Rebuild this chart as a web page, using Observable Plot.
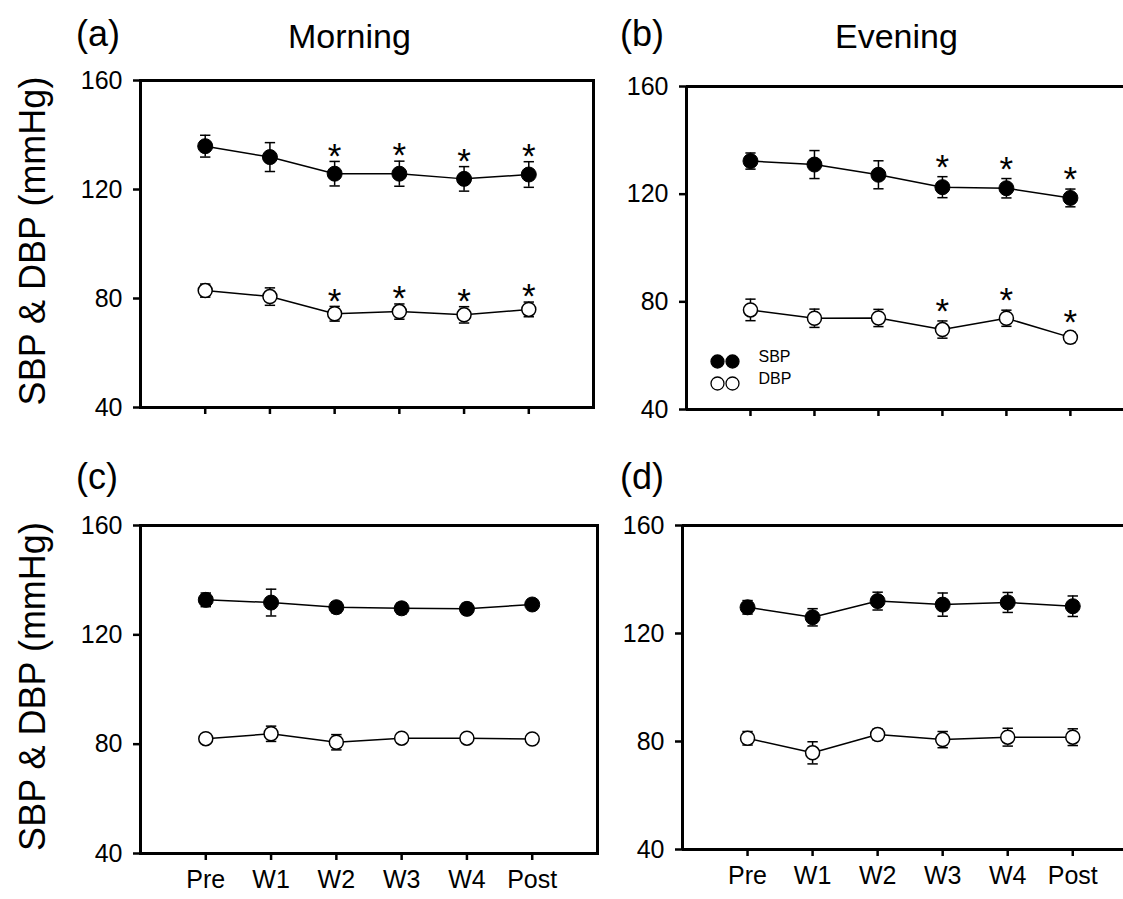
<!DOCTYPE html>
<html><head><meta charset="utf-8">
<script src="https://cdn.jsdelivr.net/npm/d3@7"></script>
<script src="https://cdn.jsdelivr.net/npm/@observablehq/plot@0.6"></script>
<style>
body{margin:0;background:#fff;}
#fig{position:relative;width:1123px;height:899px;overflow:hidden;font-family:"Liberation Sans",Arial,sans-serif;color:#000;}
.panel{position:absolute;}
.lab{position:absolute;white-space:nowrap;}
</style></head><body>
<div id="fig"></div>
<script>
const timepoints = ["Pre","W1","W2","W3","W4","Post"];
const yTicks = [40,80,120,160];
const yTitle = "SBP & DBP (mmHg)";
const legendLabels = ["SBP","DBP"];

// (a) Morning
const aSBP   = [135.9,131.9,125.8,125.8,123.9,125.5];
const aSBPse = [4.0,5.3,4.5,4.6,4.5,4.7];
const aSBPsig= [0,0,1,1,1,1];
const aDBP   = [82.9,80.7,74.4,75.2,74.0,76.0];
const aDBPse = [2.4,3.2,2.7,2.8,3.0,2.7];
const aDBPsig= [0,0,1,1,1,1];
// (b) Evening
const bSBP   = [132.3,131.0,127.2,122.6,122.2,118.6];
const bSBPse = [3.0,5.2,5.2,3.9,3.6,3.3];
const bSBPsig= [0,0,0,1,1,1];
const bDBP   = [77.0,73.9,74.0,69.7,73.9,66.8];
const bDBPse = [4.0,3.4,3.2,3.2,3.0,2.0];
const bDBPsig= [0,0,0,1,1,1];
// (c)
const cSBP   = [132.8,131.8,130.1,129.7,129.5,131.1];
const cSBPse = [2.5,4.9,2.0,2.0,2.0,1.8];
const cDBP   = [82.0,83.8,80.7,82.2,82.2,81.9];
const cDBPse = [1.5,2.8,2.8,1.5,1.5,1.5];
// (d)
const dSBP   = [129.7,126.0,132.0,130.7,131.5,130.1];
const dSBPse = [2.5,3.2,3.3,4.3,3.7,3.8];
const dDBP   = [81.2,75.8,82.6,80.7,81.6,81.6];
const dDBPse = [2.5,4.1,2.0,3.0,3.3,3.1];

const FONT = "'Liberation Sans', Arial, sans-serif";

function rows(s, v, se, sig) {
  return v.map((val, i) => ({s, i, v: val, se: se[i], sig: sig ? !!sig[i] : false}));
}

function panel(o) {
  const sbp = rows("SBP", o.sbp, o.sbpSe, o.sbpSig);
  const dbp = rows("DBP", o.dbp, o.dbpSe, o.dbpSig);
  const all = [...sbp, ...dbp];
  const marks = [];
  if (o.full) marks.push(Plot.frame({stroke: "black", strokeWidth: 3}));
  else marks.push(
    Plot.ruleY([40, 160], {stroke: "black", strokeWidth: 3}),
    Plot.ruleX([-1], {stroke: "black", strokeWidth: 3})
  );
  marks.push(
    Plot.axisY({ticks: yTicks, tickSize: 7, tickPadding: 11, fontSize: 25, strokeWidth: 2.5, label: null}),
    Plot.axisX({ticks: d3.range(timepoints.length), tickSize: 7, tickPadding: 10, fontSize: 25, strokeWidth: 2.5, label: null,
      tickFormat: o.xLabels ? (i => timepoints[i]) : (() => "")}),
    Plot.ruleX(all, {x: "i", y1: d => d.v - d.se, y2: d => d.v + d.se, stroke: "black", strokeWidth: 1.5}),
    Plot.link(all, {x1: d => d.i - 0.08, x2: d => d.i + 0.08, y1: d => d.v + d.se, y2: d => d.v + d.se, stroke: "black", strokeWidth: 1.5}),
    Plot.link(all, {x1: d => d.i - 0.08, x2: d => d.i + 0.08, y1: d => d.v - d.se, y2: d => d.v - d.se, stroke: "black", strokeWidth: 1.5}),
    Plot.line(sbp, {x: "i", y: "v", stroke: "black", strokeWidth: 1.5}),
    Plot.line(dbp, {x: "i", y: "v", stroke: "black", strokeWidth: 1.5}),
    Plot.dot(sbp, {x: "i", y: "v", r: 7.5, fill: "black", stroke: "black", strokeWidth: 1}),
    Plot.dot(dbp, {x: "i", y: "v", r: 7, fill: "white", stroke: "black", strokeWidth: 1.5}),
    Plot.text(all.filter(d => d.sig), {x: "i", y: d => d.v + d.se, text: () => "*", fontSize: 35, lineAnchor: "middle", dy: o.starDy, fill: "black"})
  );
  if (o.yTitle) marks.push(Plot.text([yTitle], {text: d => d, frameAnchor: "left", textAnchor: "middle", rotate: -90, dx: -107, dy: -3, fontSize: 36, fill: "black"}));
  if (o.legend) {
    const fills = ["black", "white"];
    const dys = [-48, -26];
    legendLabels.forEach((lab, k) => {
      [31, 46].forEach(dx => marks.push(Plot.dot([lab], {frameAnchor: "bottom-left", dx, dy: dys[k], r: 6.5, fill: fills[k], stroke: "black", strokeWidth: 1.3})));
      marks.push(Plot.text([lab], {text: d => d, frameAnchor: "bottom-left", dx: 72, dy: dys[k], textAnchor: "start", fontSize: 16, fill: "black"}));
    });
  }
  const svg = Plot.plot({
    width: o.width, height: o.height,
    marginTop: o.mt, marginLeft: o.ml, marginRight: o.mr, marginBottom: o.mb,
    x: {domain: [-1, o.xMax]},
    y: {domain: [40, 160]},
    style: {fontFamily: FONT, color: "black", background: "transparent", overflow: "visible"},
    marks
  });
  svg.classList.add("panel");
  svg.style.left = o.left + "px";
  svg.style.top = o.top + "px";
  return svg;
}

const fig = document.getElementById("fig");
fig.append(
  panel({sbp: aSBP, sbpSe: aSBPse, sbpSig: aSBPsig, dbp: aDBP, dbpSe: aDBPse, dbpSig: aDBPsig,
    left: 0, top: 0, width: 600, height: 445, mt: 80, ml: 140, mr: 7, mb: 38, xMax: 6, full: true, xLabels: false, yTitle: true, starDy: -5}),
  panel({sbp: bSBP, sbpSe: bSBPse, sbpSig: bSBPsig, dbp: bDBP, dbpSe: bDBPse, dbpSig: bDBPsig,
    left: 600, top: 0, width: 523, height: 447, mt: 86, ml: 86, mr: 0, mb: 38, xMax: 5.83, full: false, xLabels: false, legend: true, starDy: -9}),
  panel({sbp: cSBP, sbpSe: cSBPse, dbp: cDBP, dbpSe: cDBPse,
    left: 0, top: 440, width: 600, height: 459, mt: 85, ml: 140, mr: 3, mb: 46, xMax: 6, full: true, xLabels: true, yTitle: true, starDy: -5}),
  panel({sbp: dSBP, sbpSe: dSBPse, dbp: dDBP, dbpSe: dDBPse,
    left: 600, top: 440, width: 523, height: 459, mt: 85, ml: 82, mr: 0, mb: 50, xMax: 5.78, full: false, xLabels: true, starDy: -5})
);

const titles = [
  ["(a)", 76, 16, 36], ["Morning", 288, 19, 34],
  ["(b)", 620, 16, 36], ["Evening", 835, 19, 34],
  ["(c)", 76, 459, 36], ["(d)", 620, 459, 36]
];
titles.forEach(([t, x, y, fs]) => {
  const el = document.createElement("div");
  el.className = "lab";
  el.textContent = t;
  el.style.left = x + "px"; el.style.top = y + "px";
  el.style.fontSize = fs + "px"; el.style.lineHeight = fs + "px";
  fig.append(el);
});
</script>
</body></html>
